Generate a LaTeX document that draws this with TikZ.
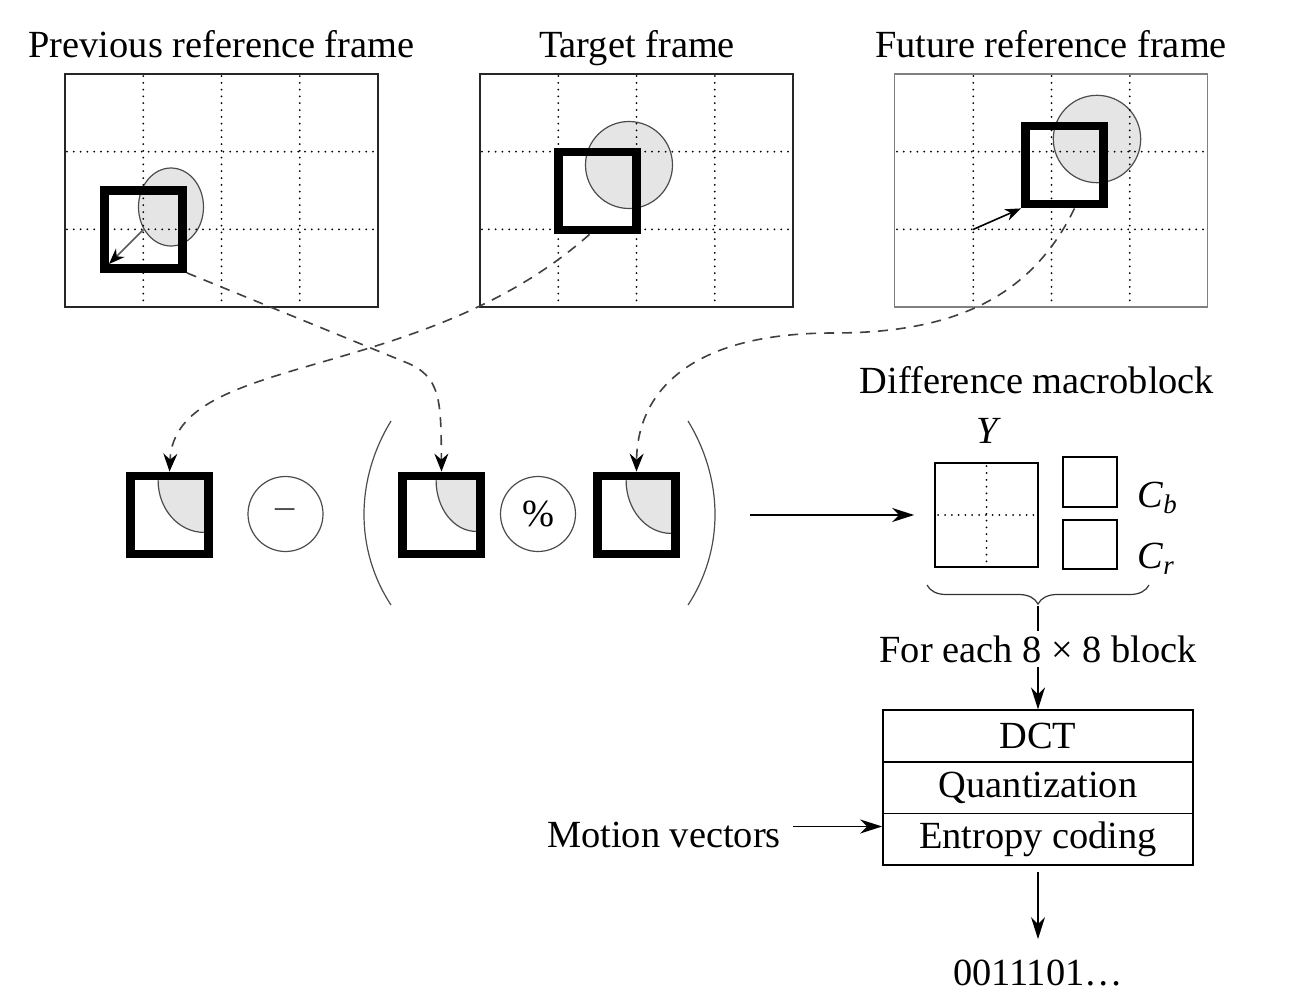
\documentclass[tikz,border=0pt]{standalone}
\usepackage{fontspec}
\setmainfont{Liberation Serif}
\usetikzlibrary{positioning,arrows.meta,decorations.pathreplacing}

\tikzset{
  frm/.style={draw=black!85, line width=0.8pt, minimum width=156.5pt, minimum height=116.5pt, inner sep=0pt},
  dotgrid/.style={line width=1pt, line cap=round, dash pattern=on 0pt off 3.4pt},
  mblock/.style={draw, line width=4.4pt, minimum size=39pt, inner sep=0pt},
  disc/.style={fill=gray!20, draw=black!70, line width=0.6pt},
  dashflow/.style={draw=black!75, line width=0.8pt, dash pattern=on 5pt off 4pt, -{Stealth[length=9pt,width=7pt,inset=3pt,color=black]}},
  arr/.style={line width=0.8pt, -{Stealth[length=11pt,width=7pt,inset=3.5pt]}},
  op/.style={circle, draw=black!70, line width=0.6pt, minimum size=37.5pt, inner sep=0pt, text=black!70},
  stage/.style={draw, line width=0.8pt, minimum width=155pt, minimum height=25.85pt, inner sep=0pt},
  chan/.style={draw, line width=0.8pt, inner sep=0pt},
}

\begin{document}
\begin{tikzpicture}[x=0.5pt, y=-0.5pt, font=\fontsize{19.2}{23}\selectfont, every node/.style={inner sep=2pt}]
  \useasboundingbox (0,0) rectangle (1291,1002);

  % Les trois trames
  \node[frm] (f1) at (221.5,190.5) {};
  \node[frm] (f2) at (636.5,190.5) {};
  \node[frm, draw=gray] (f3) at (1051,190.5) {};
  \node[anchor=base] (t1) at (221.5,57) {Previous reference frame};
  \node[anchor=base] (t2) at (637,57) {Target frame};
  \node[anchor=base] (t3) at (1051,57) {Future reference frame};

  % Objets en mouvement
  \draw[disc] (171,207) ellipse [x radius=16.25pt, y radius=19.5pt];
  \draw[disc] (629,165) circle [radius=21.75pt];
  \draw[disc] (1097,139) circle [radius=21.85pt];

  % Grilles pointillées
  \foreach \fx in {65,480,895} {
    \foreach \k in {1,2,3} \draw[dotgrid] (\fx+78.25*\k,76) -- (\fx+78.25*\k,306);
    \foreach \k in {1,2} \draw[dotgrid] (\fx+2,74+77.67*\k) -- (\fx+312,74+77.67*\k);
  }

  % Macroblocs dans les trames
  \node[mblock] (q1) at (143.5,229.5) {};
  \node[mblock] (q2) at (597.5,191) {};
  \node[mblock] (q3) at (1064.5,165) {};
  \coordinate (g3) at (973,229.5);
  \draw[black!65, line width=0.8pt, -{Stealth[length=8pt,width=6pt,inset=2.5pt,color=black]}] (q1.center) -- ([shift={(4.4pt,4.4pt)}]q1.south west);
  \draw[line width=0.8pt, -{Stealth[length=8pt,width=6pt,inset=2.5pt]}] (g3) -- (q3.south west);

  % Rangée du milieu
  \foreach \cx/\rx/\ry in {169.5/23pt/26pt, 441.5/20pt/25.5pt, 636.5/22.5pt/26.5pt} {
    \begin{scope}
      \clip (\cx-39,476) rectangle (\cx+39,554);
      \draw[disc] (\cx+34.6,480.4) ellipse [x radius=\rx, y radius=\ry];
    \end{scope}
  }
  \node[mblock] (sqA) at (169.5,515) {};
  \node[op] (minus) at (285.5,514) {\textendash};
  \node[mblock] (sqB) at (441.5,515) {};
  \node[op, text=black] (pct) at (538,514) {\%};
  \node[mblock] (sqC) at (636.5,515) {};
  \draw[black!70, line width=0.6pt] (391,421) .. controls (355,480) and (355,550) .. (391,605);
  \draw[black!70, line width=0.6pt] (688,421) .. controls (724,480) and (724,550) .. (688,605);

  % Flèches pointillées
  \draw[dashflow] (q1.south east) -- (405,362) .. controls (441,376) and (441,400) .. (sqB.north);
  \draw[dashflow] ([xshift=-4pt]q2.south) .. controls (420,385) and (175,352) .. (sqA.north);
  \draw[dashflow] ([xshift=5pt]q3.south) .. controls (1030,300) and (950,333) .. (833,333) .. controls (680,333) and (637,400) .. (sqC.north);

  % Macrobloc de différence
  \coordinate (rpar) at (750,515);
  \node[anchor=base] (diff) at (1037,393) {Difference macroblock};
  \node[chan, minimum width=51.5pt, minimum height=52pt] (ybox) at (986.5,515) {};
  \draw[dotgrid] ([yshift=-2pt]ybox.north) -- ([yshift=2pt]ybox.south);
  \draw[dotgrid] ([xshift=2pt]ybox.west) -- ([xshift=-2pt]ybox.east);
  \node[anchor=base] (ylab) at (989,443) {\textit{Y}};
  \node[chan, minimum width=27pt, minimum height=25pt] (cb) at (1090,482) {};
  \node[chan, minimum width=27pt, minimum height=24.5pt] (cr) at (1090,544.5) {};
  \node[anchor=base west, inner sep=0pt] (cblab) at (1137,507) {\textit{C}\textsubscript{\textit{b}}};
  \node[anchor=base west, inner sep=0pt] (crlab) at (1137,568) {\textit{C}\textsubscript{\textit{r}}};
  \draw[arr, shorten >=10pt] (rpar) -- (ybox.west);
  \draw[black!80, line width=0.6pt, decorate, decoration={brace, amplitude=9.5pt}] (1149,585) -- (927,585);
  \coordinate (btip) at (1038,606);

  % Chaîne de codage
  \node[anchor=base] (each) at (1038,662) {For each 8 × 8 block};
  \draw[line width=0.8pt] (btip) -- (each.north);
  \node[stage] (dct) at (1038,736) {DCT};
  \node[stage, below=-0.8pt of dct] (quant) {Quantization};
  \node[stage, below=-0.8pt of quant] (ent) {Entropy coding};
  \draw[arr] (each.south) -- (dct.north);
  \node[anchor=base] (mv) at (664,847) {Motion vectors};
  \draw[arr, shorten <=4pt] ([yshift=4pt]mv.east) -- ([yshift=4pt]mv.east -| ent.west);
  \node[anchor=base] (bits) at (1038,985) {0011101\ldots};
  \draw[arr, shorten <=3pt, shorten >=8pt] (ent.south) -- (bits.north);
\end{tikzpicture}
\end{document}
